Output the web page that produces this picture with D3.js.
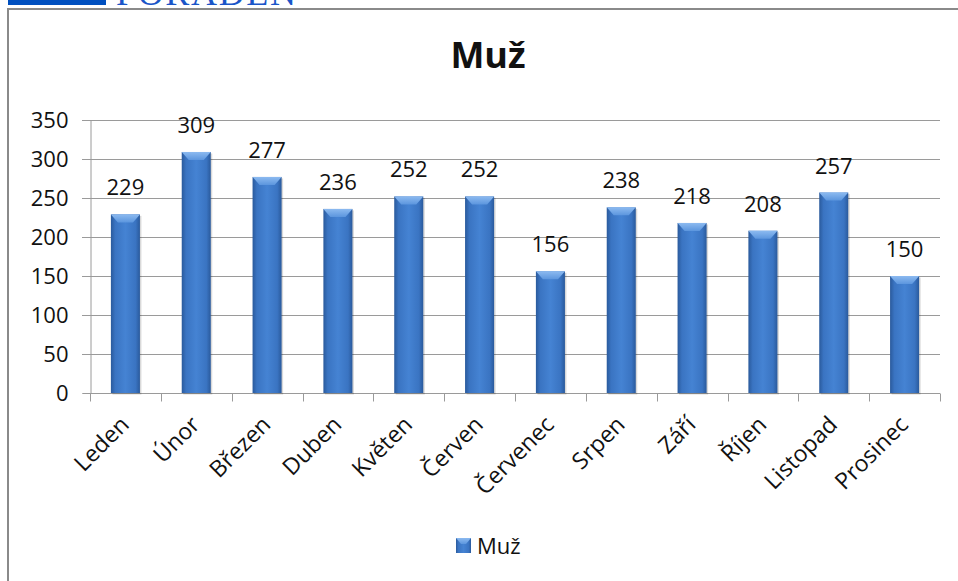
<!DOCTYPE html>
<html>
<head>
<meta charset="utf-8">
<script src="https://cdn.jsdelivr.net/npm/d3@7"></script>
<style>
  body { margin: 0; background: #fff; }
  svg { display: block; }
  text { font-family: "Open Sans", "DejaVu Sans", sans-serif; fill: #111; }
</style>
</head>
<body>
<div class="board"></div>
<script>
// data
var months = ["Leden", "Únor", "Březen", "Duben", "Květen", "Červen",
              "Červenec", "Srpen", "Září", "Říjen", "Listopad", "Prosinec"];
var muz = [229, 309, 277, 236, 252, 252, 156, 238, 218, 208, 257, 150];
var yTicks = [0, 50, 100, 150, 200, 250, 300, 350];
var seriesName = "Muž";

var width = 958;
var height = 581;

var svg = d3.select(".board").append("svg")
  .attr("width", width)
  .attr("height", height);

// gradients for the bevelled bars
var defs = svg.append("defs");
var g1 = defs.append("linearGradient").attr("id", "barGrad")
  .attr("x1", "0%").attr("x2", "100%").attr("y1", "0%").attr("y2", "0%");
g1.append("stop").attr("offset", "0%").attr("stop-color", "#2a5a9c");
g1.append("stop").attr("offset", "15%").attr("stop-color", "#3a74c2");
g1.append("stop").attr("offset", "50%").attr("stop-color", "#4583d3");
g1.append("stop").attr("offset", "85%").attr("stop-color", "#3a74c2");
g1.append("stop").attr("offset", "100%").attr("stop-color", "#2a5a9c");
var g2 = defs.append("linearGradient").attr("id", "capGrad")
  .attr("x1", "0%").attr("x2", "0%").attr("y1", "0%").attr("y2", "100%");
g2.append("stop").attr("offset", "0%").attr("stop-color", "#8cbaf0");
g2.append("stop").attr("offset", "100%").attr("stop-color", "#5c96de");

// logo bits cut off at the top
svg.append("rect").attr("x", 8).attr("y", 0).attr("width", 98).attr("height", 5)
  .attr("fill", "#0050c0");
svg.append("text").attr("x", 116).attr("y", 5)
  .style("font-family", "'Liberation Serif', serif")
  .style("font-size", "36px")
  .style("fill", "#1a55c8")
  .attr("textLength", 180)
  .text("PORADEN");

// chart frame
svg.append("path")
  .attr("d", "M8,600 L8,9 L970,9")
  .attr("fill", "none")
  .attr("stroke", "#8a8a8a")
  .attr("stroke-width", 2);

var x = d3.scaleBand().domain(months).range([90, 940]).padding(0);
var y = d3.scaleLinear().domain([0, 350]).range([393, 120]);

// gridlines
svg.append("g").selectAll("line").data(yTicks.slice(1)).enter().append("line")
  .attr("x1", 82).attr("x2", 940)
  .attr("y1", function(d) { return Math.round(y(d)) + 0.5; })
  .attr("y2", function(d) { return Math.round(y(d)) + 0.5; })
  .attr("stroke", "#9a9a9a");

// y axis
var yAxis = svg.append("g")
  .attr("transform", "translate(90.5,0)")
  .call(d3.axisLeft(y).tickValues(yTicks).tickSize(8).tickPadding(14));
yAxis.select(".domain").attr("stroke", "#9a9a9a");
yAxis.selectAll(".tick line").attr("stroke", "#9a9a9a");
yAxis.selectAll(".tick text").style("font-size", "22px").style("font-family", "'Open Sans', sans-serif").attr("fill", "#111");

// x axis line + ticks at band edges
var base = Math.round(y(0)) + 0.5;
svg.append("line").attr("x1", 90).attr("x2", 940)
  .attr("y1", base).attr("y2", base).attr("stroke", "#9a9a9a");
svg.append("g").selectAll("line").data(d3.range(months.length + 1)).enter().append("line")
  .attr("x1", function(i) { return Math.round(90 + i * x.step()) + 0.5; })
  .attr("x2", function(i) { return Math.round(90 + i * x.step()) + 0.5; })
  .attr("y1", base).attr("y2", base + 8)
  .attr("stroke", "#9a9a9a");

var barW = x.bandwidth() * 0.41;
var capH = 8;

var bars = svg.append("g").selectAll("g").data(muz).enter().append("g");

bars.append("rect")
  .attr("x", function(d, i) { return x(months[i]) + x.bandwidth() / 2 - barW / 2 + 1.5; })
  .attr("y", function(d) { return y(d) + 1.5; })
  .attr("width", barW)
  .attr("height", function(d) { return y(0) - y(d); })
  .attr("fill", "#000").attr("opacity", 0.15);

bars.append("rect")
  .attr("x", function(d, i) { return x(months[i]) + x.bandwidth() / 2 - barW / 2; })
  .attr("y", function(d) { return y(d); })
  .attr("width", barW)
  .attr("height", function(d) { return y(0) - y(d); })
  .attr("fill", "url(#barGrad)");

// top bevel
bars.append("path")
  .attr("d", function(d, i) {
    var l = x(months[i]) + x.bandwidth() / 2 - barW / 2, t = y(d);
    return "M" + l + "," + t + " L" + (l + barW) + "," + t +
      " L" + (l + barW - 7) + "," + (t + capH) + " L" + (l + 7) + "," + (t + capH) + "Z";
  })
  .attr("fill", "url(#capGrad)");

// value labels
bars.append("text")
  .attr("x", function(d, i) { return x(months[i]) + x.bandwidth() / 2; })
  .attr("y", function(d) { return y(d) - 19; })
  .attr("text-anchor", "middle")
  .style("font-size", "22px")
  .text(function(d) { return d; });

// rotated month labels
svg.append("g").selectAll("text").data(months).enter().append("text")
  .attr("transform", function(d) {
    return "translate(" + (x(d) + x.bandwidth() / 2 + 5) + "," + 426 + ") rotate(-45)";
  })
  .attr("text-anchor", "end")
  .style("font-size", "23px")
  .text(function(d) { return d; });

// title
svg.append("text")
  .attr("x", 488).attr("y", 68)
  .attr("text-anchor", "middle")
  .style("font-size", "36px")
  .style("font-weight", "bold")
  .text(seriesName);

// legend
svg.append("rect").attr("x", 456).attr("y", 538).attr("width", 15).attr("height", 15)
  .attr("fill", "url(#barGrad)");
svg.append("path").attr("d", "M456,538 L471,538 L466,544 L461,544Z").attr("fill", "url(#capGrad)");
svg.append("text").attr("x", 477).attr("y", 554)
  .style("font-size", "22px")
  .text(seriesName);
</script>
</body>
</html>
